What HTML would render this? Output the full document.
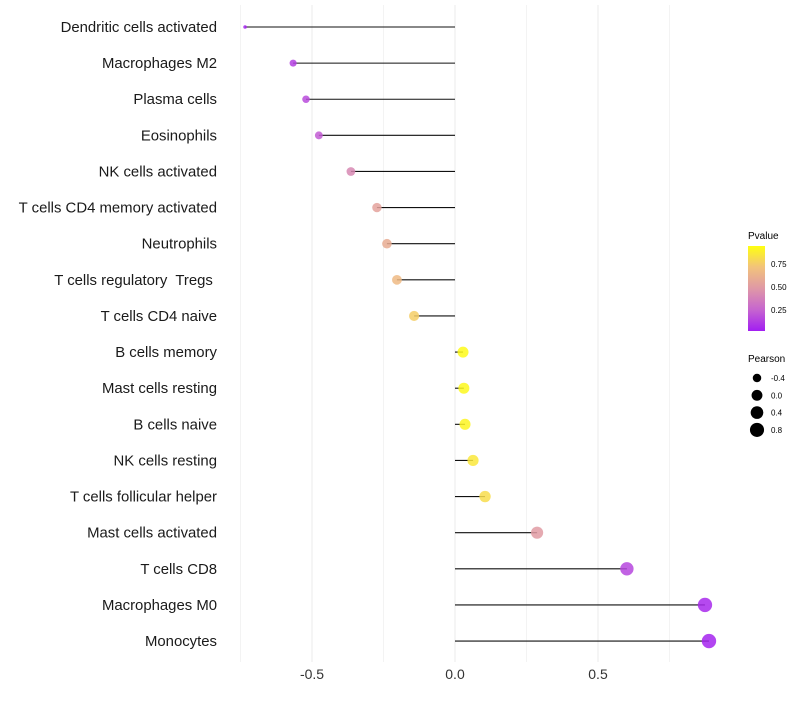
<!DOCTYPE html>
<html><head><meta charset="utf-8"><style>
body{margin:0;background:#fff;font-family:"Liberation Sans",Arial,sans-serif}
svg text{font-family:"Liberation Sans",Arial,sans-serif;white-space:pre}
</style></head><body>
<svg id="chart" width="800" height="700" xmlns="http://www.w3.org/2000/svg">
<defs><linearGradient id="pg" x1="0" y1="1" x2="0" y2="0">
<stop offset="0" stop-color="#a21ef2"/><stop offset="0.25" stop-color="#c665cf"/>
<stop offset="0.5" stop-color="#df98a6"/><stop offset="0.75" stop-color="#f2c27c"/><stop offset="1" stop-color="#ffff10"/>
</linearGradient></defs>
<g id="grid"></g><g id="marks"></g><g id="labels"></g>
<g>
<text x="748" y="239" font-size="10">Pvalue</text>
<rect x="748" y="246" width="17" height="85" fill="url(#pg)"/>
<text x="771" y="267" font-size="8">0.75</text>
<text x="771" y="290" font-size="8">0.50</text>
<text x="771" y="313" font-size="8">0.25</text>
</g>
<g id="sizeLegend">
<text x="748" y="362" font-size="10">Pearson</text>
</g>
</svg>
<script>
const categories=["Dendritic cells activated","Macrophages M2","Plasma cells","Eosinophils","NK cells activated","T cells CD4 memory activated","Neutrophils","T cells regulatory  Tregs ","T cells CD4 naive","B cells memory","Mast cells resting","B cells naive","NK cells resting","T cells follicular helper","Mast cells activated","T cells CD8","Macrophages M0","Monocytes"];
const pearson=[-0.734,-0.566,-0.521,-0.476,-0.364,-0.273,-0.238,-0.203,-0.143,0.028,0.031,0.035,0.063,0.105,0.287,0.601,0.874,0.888];
const pvalue=[0.02,0.12,0.16,0.22,0.42,0.56,0.62,0.7,0.8,0.98,0.97,0.96,0.9,0.86,0.52,0.14,0.04,0.02];
const xTicks=[-0.5,0,0.5];
const xTickLabels=["-0.5","0.0","0.5"];
const sizeLegendVals=[-0.4,0.0,0.4,0.8];
const NS="http://www.w3.org/2000/svg";
const x=v=>455+v*286;
const y=i=>27+i*36.12;
const pMin=Math.min(...pearson),pMax=Math.max(...pearson);
const r=v=>{const t=Math.max(0,Math.min(1,(v-pMin)/(pMax-pMin)));return 1.8+5.4*Math.sqrt(t);};
const stops=[[0,[162,30,242]],[0.25,[198,101,207]],[0.5,[223,152,166]],[0.75,[242,194,124]],[1,[255,255,16]]];
function col(p){for(let k=0;k<stops.length-1;k++){const a=stops[k],b=stops[k+1];if(p<=b[0]){const t=(p-a[0])/(b[0]-a[0]);return "rgb("+a[1].map((c,j)=>Math.round(c+(b[1][j]-c)*t)).join(",")+")";}}return "rgb(255,255,16)";}
function mk(tag,at,parent){const e=document.createElementNS(NS,tag);for(const k in at)e.setAttribute(k,at[k]);parent.appendChild(e);return e;}
const grid=document.getElementById("grid"),marks=document.getElementById("marks"),labels=document.getElementById("labels");
for(let v=-0.75;v<=0.76;v+=0.25){const g=mk("line",{x1:x(v),x2:x(v),y1:5,y2:662,stroke:"#ebebeb","stroke-width":Math.abs(v*4%2)<0.01?1:0.6},grid);

}
xTicks.forEach((v,i)=>{const t=mk("text",{x:x(v),y:679,"font-size":"14","text-anchor":"middle",fill:"#333"},labels);t.textContent=xTickLabels[i];

});
categories.forEach((c,i)=>{
const t=mk("text",{x:217,y:y(i)+5,"font-size":"14.9","text-anchor":"end",fill:"#1a1a1a"},labels);t.textContent=c;


const l=mk("line",{x1:x(0),x2:x(pearson[i]),y1:y(i),y2:y(i),stroke:"#111","stroke-width":1.1},marks);


const d=mk("circle",{cx:x(pearson[i]),cy:y(i),r:r(pearson[i]),fill:col(pvalue[i]),"fill-opacity":0.85},marks);


});
const sl=document.getElementById("sizeLegend");
sizeLegendVals.forEach((v,i)=>{const cy=378+i*17.3;
const c=mk("circle",{cx:757,cy:cy,r:r(v),fill:"#000"},sl);


const t=mk("text",{x:771,y:cy+3,"font-size":"8"},sl);t.textContent=v.toFixed(1);

});
</script>
</body></html>
